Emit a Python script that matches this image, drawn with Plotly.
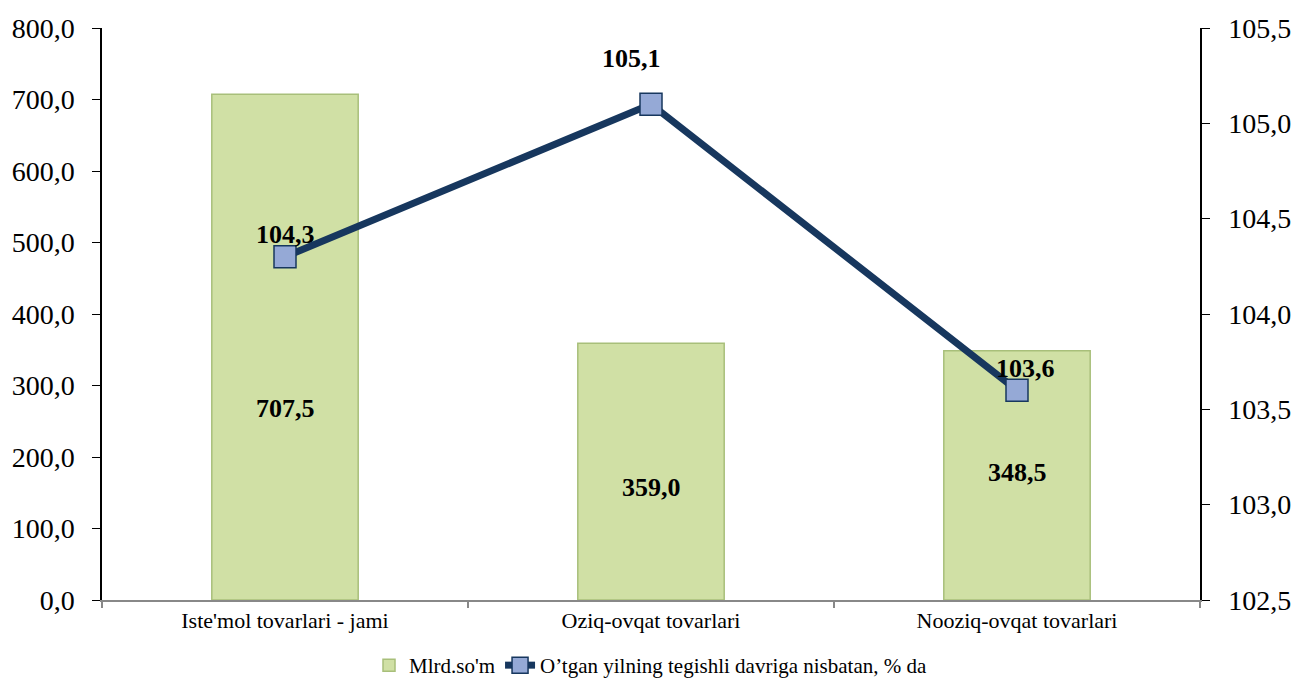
import plotly.graph_objects as go

categories = ["Iste'mol tovarlari - jami", "Oziq-ovqat tovarlari", "Nooziq-ovqat tovarlari"]
bar_values = [707.5, 359.0, 348.5]
line_values = [104.3, 105.1, 103.6]
bar_name = "Mlrd.so'm"
line_name = "O’tgan yilning tegishli davriga nisbatan, % da"
left_ticks = [0, 100, 200, 300, 400, 500, 600, 700, 800]
right_ticks = [102.5, 103.0, 103.5, 104.0, 104.5, 105.0, 105.5]

# label placement (style constants)
bar_label_y = [268, 158, 179]
line_label_shift = [22, 46, 22]
line_label_xshift = [0, -20, 8]

def fmt(v, d=1):
    return f"{v:.{d}f}".replace(".", ",")

FONT = "Liberation Serif"
NAVY = "#17375E"

fig = go.Figure()
fig.add_trace(go.Bar(
    x=categories, y=bar_values, name=bar_name,
    marker=dict(color="#D0E0A5", line=dict(color="#A8BF7A", width=1.5)),
    width=0.4, yaxis="y",
))
fig.add_trace(go.Scatter(
    x=categories, y=line_values, name=line_name, yaxis="y2",
    mode="lines+markers",
    line=dict(color=NAVY, width=7),
    marker=dict(symbol="square", size=22, color="#95A9D6", line=dict(color=NAVY, width=1.5)),
))

annotations = []
for c, v, ly in zip(categories, bar_values, bar_label_y):
    annotations.append(dict(x=c, y=ly, xref="x", yref="y", text=f"<b>{fmt(v)}</b>",
                            showarrow=False, font=dict(family=FONT, size=26, color="black")))
for c, v, s, xs in zip(categories, line_values, line_label_shift, line_label_xshift):
    annotations.append(dict(x=c, y=v, xref="x", yref="y2", text=f"<b>{fmt(v)}</b>",
                            showarrow=False, yshift=s, xshift=xs,
                            font=dict(family=FONT, size=26, color="black")))

fig.update_layout(
    width=1296, height=686,
    margin=dict(l=102, r=96, t=28, b=86),
    paper_bgcolor="white", plot_bgcolor="white",
    font=dict(family=FONT, color="black"),
    xaxis=dict(
        automargin=False,
        showline=True, linecolor="#888888", linewidth=2,
        ticks="outside", tickson="boundaries", tickcolor="#888888", ticklen=6, tickwidth=2,
        tickfont=dict(family=FONT, size=22, color="black"),
        showgrid=False,
    ),
    yaxis=dict(
        automargin=False,
        range=[0, 800], tickvals=left_ticks, ticktext=[fmt(t) for t in left_ticks],
        showline=True, linecolor="black", linewidth=1.5,
        ticks="outside", ticklen=8, tickcolor="black", ticklabelstandoff=12,
        tickfont=dict(family=FONT, size=28, color="black"),
        showgrid=False, zeroline=False,
    ),
    yaxis2=dict(
        automargin=False,
        range=[102.5, 105.5], tickvals=right_ticks, ticktext=[fmt(t) for t in right_ticks],
        overlaying="y", side="right",
        showline=True, linecolor="black", linewidth=1.5,
        ticks="outside", ticklen=8, tickcolor="black", ticklabelstandoff=13,
        tickfont=dict(family=FONT, size=28, color="black"),
        showgrid=False, zeroline=False,
    ),
    legend=dict(orientation="h", x=0.5, xanchor="center",
                yref="container", y=-0.008, yanchor="bottom",
                font=dict(family=FONT, size=21, color="black")),
    annotations=annotations,
    showlegend=True,
)

fig.write_html("out.html", config={"displayModeBar": False},
               post_script="document.body.style.margin='0';")
